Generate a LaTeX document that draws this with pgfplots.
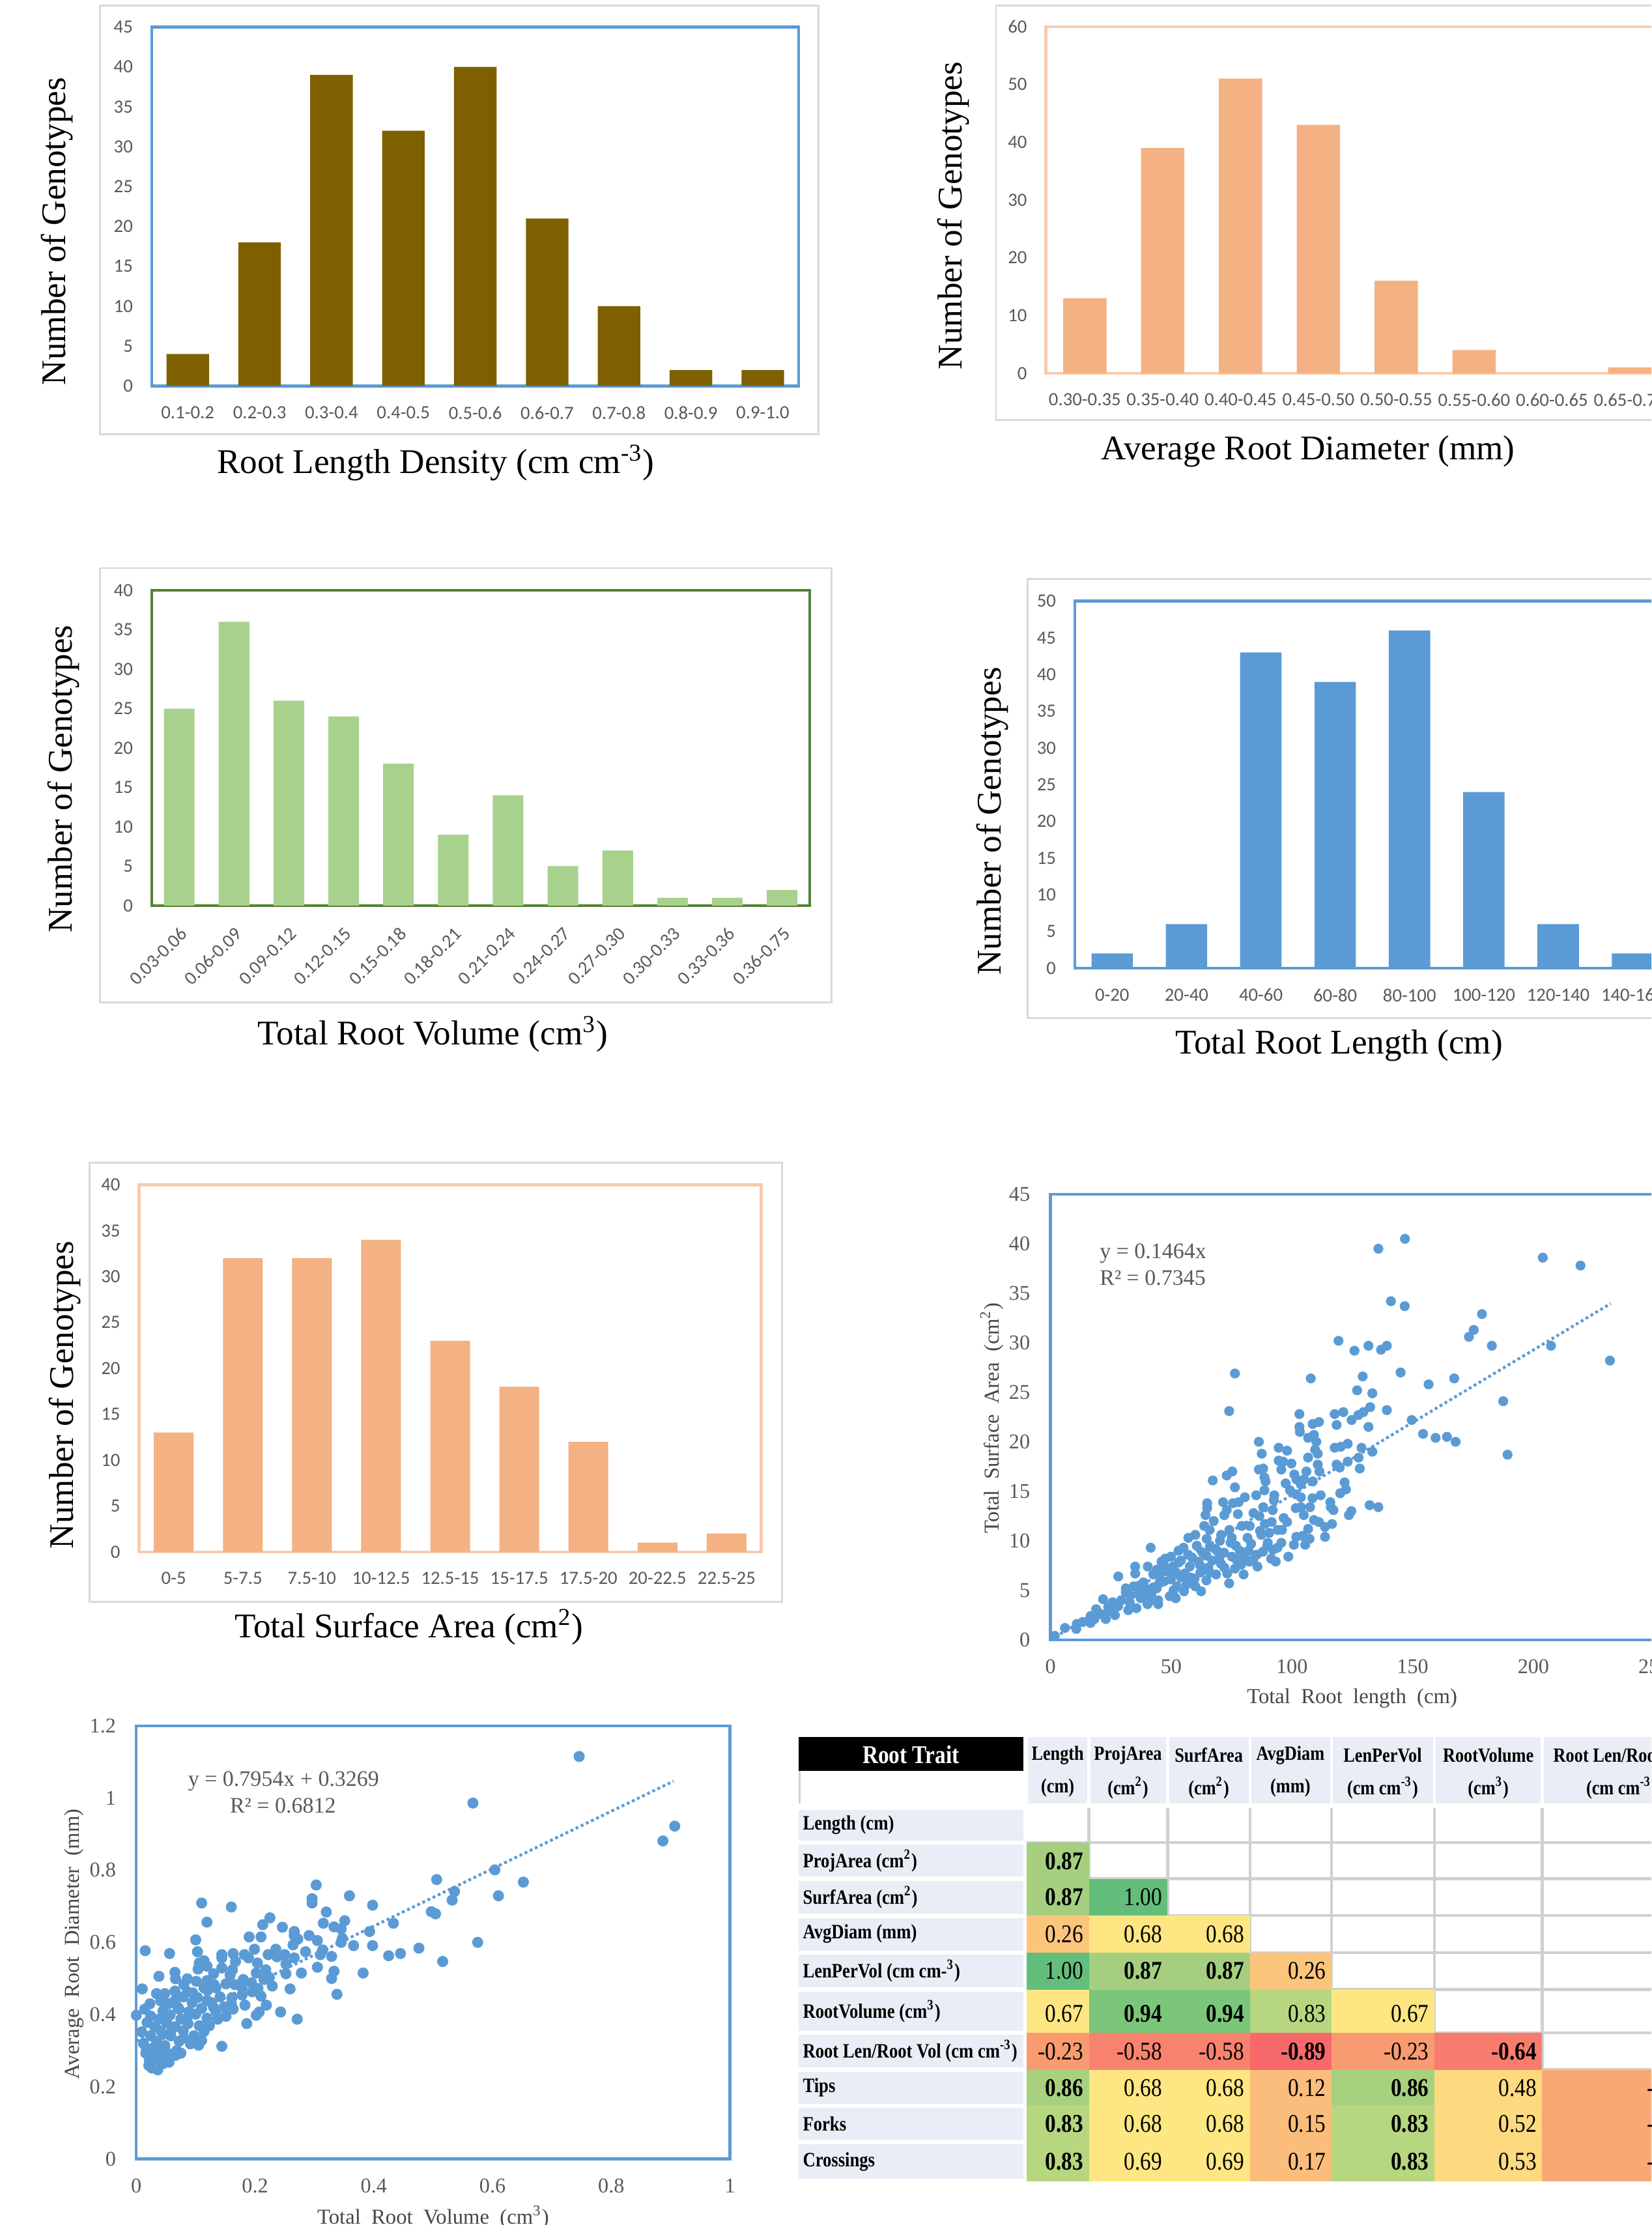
\documentclass[border=0pt]{standalone}
\usepackage{pgfplots}
\pgfplotsset{compat=1.18}
\usepackage{fontspec}
\setmainfont{Liberation Serif}
\newfontfamily\calib{Carlito}
\newfontfamily\tabfont{Liberation Serif}[FakeStretch=0.85]

\definecolor{olivebar}{HTML}{7F6000}
\definecolor{salmon}{HTML}{F4B183}
\definecolor{salmonline}{HTML}{F8CBAD}
\definecolor{greenbar}{HTML}{A9D18E}
\definecolor{greenline}{HTML}{548235}
\definecolor{bluebar}{HTML}{5B9BD5}
\definecolor{tickgray}{HTML}{595959}
\definecolor{boxgray}{HTML}{D9D9D9}
\definecolor{hdr}{HTML}{E9EDF5}
\definecolor{gridg}{HTML}{D0D0D0}
\definecolor{g100}{HTML}{63BE7B}
\definecolor{g94}{HTML}{7CC67C}
\definecolor{g87}{HTML}{A5CF7F}
\definecolor{g86}{HTML}{A8D17F}
\definecolor{g83}{HTML}{B6D780}
\definecolor{y68}{HTML}{FEE783}
\definecolor{y50}{HTML}{FDD980}
\definecolor{o26}{HTML}{FCC57C}
\definecolor{o15}{HTML}{FBBD7B}
\definecolor{r23}{HTML}{F99B71}
\definecolor{r58}{HTML}{F7836E}
\definecolor{r64}{HTML}{F77C6E}
\definecolor{r89}{HTML}{F8696B}
\definecolor{oRL}{HTML}{F9A873}

\newcommand{\ttl}{\fontsize{12.2}{14}\selectfont}
\newcommand{\slab}{\fontsize{7.5}{9}\selectfont}
\newcommand{\tnum}{\tabfont\fontsize{9}{10}\selectfont}
\newcommand{\tlab}{\tabfont\bfseries\fontsize{7.2}{8}\selectfont}
\newcommand{\thdr}{\tabfont\bfseries\fontsize{7.1}{8}\selectfont}

% table cell: x0 x1 y0 y1 xr ym color text
\newcommand{\tc}[8]{%
  \addplot[fill=#7, draw=none] coordinates {(#1,#3) (#2,#3) (#2,#4) (#1,#4)} -- cycle;
  \node[anchor=east, inner sep=0pt, font=\tnum] at (axis cs:#5,#6) {#8};
}
% label cell: y0 y1 ym text
\newcommand{\lc}[4]{%
  \addplot[fill=hdr, draw=none] coordinates {(563,#1) (721.3,#1) (721.3,#2) (563,#2)} -- cycle;
  \node[anchor=west, inner sep=0pt, font=\tlab] at (axis cs:565.5,#3) {#4};
}
% header cell: x0 x1 xc line1 line2
\newcommand{\hc}[5]{%
  \addplot[fill=hdr, draw=none] coordinates {(#1,1224) (#2,1224) (#2,1271) (#1,1271)} -- cycle;
  \node[inner sep=0pt, font=\thdr] at (axis cs:#3,1236.8) {#4};
  \node[inner sep=0pt, font=\thdr] at (axis cs:#3,1259.8) {#5};
}

\pgfplotsset{
  barax/.style={scale only axis, enlargelimits=false, ymin=0,
    axis line style={line width=1pt}, major tick length=0pt, tick style={draw=none},
    tick label style={font=\calib\fontsize{6.6}{7}\selectfont, text=tickgray},
    /pgf/number format/assume math mode=true,
    yticklabel style={inner sep=0pt, xshift=-6.5pt},
    xticklabel style={inner sep=0pt, yshift=-7pt},
    ybar, bar shift=0pt},
  scatax/.style={scale only axis, enlargelimits=false,
    axis line style={draw=bluebar, line width=1pt}, major tick length=0pt, tick style={draw=none},
    tick label style={font=\fontsize{7.4}{8}\selectfont, text=tickgray},
    /pgf/number format/assume math mode=true,
    yticklabel style={inner sep=0pt, xshift=-7pt},
    xticklabel style={inner sep=0pt, yshift=-6.8pt}},
}

\begin{document}
\begin{tikzpicture}
\useasboundingbox (0pt,0pt) rectangle (582pt,-784pt);
\clip (0pt,0pt) rectangle (582pt,-784pt);

% ---------- outer chart boxes ----------
\draw[boxgray, line width=0.6pt] (35.25pt,-1.95pt) rectangle (288.5pt,-153pt);
\draw[boxgray, line width=0.6pt] (351pt,-1.95pt) rectangle (600pt,-148pt);
\draw[boxgray, line width=0.6pt] (35.25pt,-200.2pt) rectangle (293pt,-353.2pt);
\draw[boxgray, line width=0.6pt] (362.15pt,-204pt) rectangle (600pt,-358.7pt);
\draw[boxgray, line width=0.6pt] (31.5pt,-409.65pt) rectangle (275.65pt,-564.35pt);

% ---------- Panel 1: Root length density ----------
\begin{axis}[barax, at={(53.5pt,-136pt)}, anchor=south west, width=228pt, height=126.5pt,
  ymax=45, ytick={0,5,...,45}, xmin=-0.5, xmax=8.5, xtick={0,...,8},
  xticklabels={0.1-0.2,0.2-0.3,0.3-0.4,0.4-0.5,0.5-0.6,0.6-0.7,0.7-0.8,0.8-0.9,0.9-1.0},
  axis line style={draw=bluebar}, bar width=15pt]
\addplot[fill=olivebar, draw=none] coordinates {(0,4) (1,18) (2,39) (3,32) (4,40) (5,21) (6,10) (7,2) (8,2)};
\end{axis}
\node[rotate=90, font=\ttl] at (20pt,-81.5pt) {Number of Genotypes};
\node[font=\ttl] at (153.5pt,-163pt) {Root Length Density (cm cm\textsuperscript{-3})};

% ---------- Panel 2: Average root diameter ----------
\begin{axis}[barax, at={(368.6pt,-131.5pt)}, anchor=south west, width=219.5pt, height=122.1pt,
  ymax=60, ytick={0,10,...,60}, xmin=-0.5, xmax=7.5, xtick={0,...,7},
  xticklabels={0.30-0.35,0.35-0.40,0.40-0.45,0.45-0.50,0.50-0.55,0.55-0.60,0.60-0.65,0.65-0.70},
  axis line style={draw=salmonline}, bar width=15.25pt]
\addplot[fill=salmon, draw=none] coordinates {(0,13) (1,39) (2,51) (3,43) (4,16) (5,4) (6,0) (7,1)};
\end{axis}
\node[rotate=90, font=\ttl] at (336pt,-76pt) {Number of Genotypes};
\node[font=\ttl] at (461pt,-159pt) {Average Root Diameter (mm)};

% ---------- Panel 3: Total root volume ----------
\begin{axis}[barax, at={(53.5pt,-319.1pt)}, anchor=south west, width=231.8pt, height=111.1pt,
  ymax=40, ytick={0,5,...,40}, xmin=-0.5, xmax=11.5, xtick={0,...,11},
  xticklabels={0.03-0.06,0.06-0.09,0.09-0.12,0.12-0.15,0.15-0.18,0.18-0.21,0.21-0.24,0.24-0.27,0.27-0.30,0.30-0.33,0.33-0.36,0.36-0.75},
  xticklabel style={rotate=45, anchor=north east},
  axis line style={draw=greenline}, bar width=10.8pt]
\addplot[fill=greenbar, draw=none] coordinates {(0,25) (1,36) (2,26) (3,24) (4,18) (5,9) (6,14) (7,5) (8,7) (9,1) (10,1) (11,2)};
\end{axis}
\node[rotate=90, font=\ttl] at (22.5pt,-274.5pt) {Number of Genotypes};
\node[font=\ttl] at (152.5pt,-364.4pt) {Total Root Volume (cm\textsuperscript{3})};

% ---------- Panel 4: Total root length ----------
\begin{axis}[barax, at={(378.85pt,-341.15pt)}, anchor=south west, width=209.6pt, height=129.35pt,
  ymax=50, ytick={0,5,...,50}, xmin=-0.5, xmax=7.5, xtick={0,...,7},
  xticklabels={0-20,20-40,40-60,60-80,80-100,100-120,120-140,140-160},
  axis line style={draw=bluebar}, bar width=14.6pt]
\addplot[fill=bluebar, draw=none] coordinates {(0,2) (1,6) (2,43) (3,39) (4,46) (5,24) (6,6) (7,2)};
\end{axis}
\node[rotate=90, font=\ttl] at (349.8pt,-289.35pt) {Number of Genotypes};
\node[font=\ttl] at (471.9pt,-368.4pt) {Total Root Length (cm)};

% ---------- Panel 5: Total surface area ----------
\begin{axis}[barax, at={(49.05pt,-546.8pt)}, anchor=south west, width=219.2pt, height=129.35pt,
  ymax=40, ytick={0,5,...,40}, xmin=-0.5, xmax=8.5, xtick={0,...,8},
  xticklabels={0-5,5-7.5,7.5-10,10-12.5,12.5-15,15-17.5,17.5-20,20-22.5,22.5-25},
  axis line style={draw=salmonline}, bar width=14pt]
\addplot[fill=salmon, draw=none] coordinates {(0,13) (1,32) (2,32) (3,34) (4,23) (5,18) (6,12) (7,1) (8,2)};
\end{axis}
\node[rotate=90, font=\ttl] at (22.9pt,-491.5pt) {Number of Genotypes};
\node[font=\ttl] at (144.15pt,-573.25pt) {Total Surface Area (cm\textsuperscript{2})};

% ---------- Panel 6: scatter surface area vs length ----------
\begin{axis}[scatax, at={(370.2pt,-577.8pt)}, anchor=south west, width=212.75pt, height=157pt,
  xmin=0, xmax=250, ymin=0, ymax=45, xtick={0,50,100,150,200,250}, ytick={0,5,...,45}]
\addplot[only marks, mark=*, mark size=1.55pt, color=bluebar] coordinates {
(146.8,40.5) (135.8,39.5) (203.9,38.6) (219.5,37.8) (141,34.2) (146.7,33.7) (178.7,32.9) (175.3,31.3) (173.3,30.6) (119.3,30.2)
(182.8,29.7) (207.3,29.7) (131.7,29.7) (139.3,29.7) (136.9,29.3) (125.9,29.2) (231.7,28.2) (76.4,26.9) (145,27.0) (107.8,26.4)
(129.3,26.6) (167.2,26.4) (156.6,25.8) (127,25.2) (133.3,24.9) (187.5,24.1) (132.4,23.5) (139.3,23.2) (74,23.1) (103.1,22.8)
(117.7,22.8) (121.3,23.0) (124.7,22.2) (127.5,22.7) (129.6,23.0) (149.6,22.2) (108.6,21.8) (111.2,22.0) (118.5,21.7) (103.1,21.5)
(131.7,21.5) (103.3,21.0) (154.3,20.8) (159.5,20.4) (164.2,20.5) (167.8,20.0) (189.3,18.7) (106.7,20.4) (109.1,20.7) (110.1,20.0)
(86.3,20.0) (94.5,19.4) (98.0,19.1) (87.5,18.8) (109.6,19.2) (110.7,18.8) (117.7,19.4) (120.2,19.5) (123.1,19.8) (128.8,19.4)
(133.3,19.0) (106.7,18.4) (94.5,18.1) (96.4,18.0) (99.8,17.8) (127.6,18.4) (123.1,18.0) (118.5,17.7) (119.8,17.4) (128.1,17.3)
(110.7,17.7) (111.4,17.0) (86.3,17.2) (88.1,17.3) (75.3,17.0) (73.0,16.6) (67.2,16.1) (95.6,17.2) (101.0,16.7) (106.0,17.0)
(105.0,16.2) (108.6,16.0) (88.6,16.4) (89.1,16.0) (97.4,15.8) (101.9,16.2) (121.8,15.9) (122.4,15.2) (76.4,15.4) (88.6,15.1)
(99.2,15.1) (103.7,15.7) (120.0,14.8) (85.2,14.6) (92.7,14.6) (80.5,14.4) (101.6,14.7) (103.7,14.4) (111.9,14.6) (108.5,14.3)
(92.5,14.1) (71.5,13.9) (75.6,13.8) (77.9,13.9) (64.9,13.8) (115.9,13.9) (116.1,13.4) (132.2,13.6) (135.8,13.4) (88.1,13.4)
(92.0,13.1) (101.6,13.3) (103.7,13.4) (107.5,13.4) (64.9,13.3) (73.0,13.1) (117.2,13.1) (124.6,13.0) (123.6,12.6) (84.1,12.8)
(64.2,12.6) (72.0,12.6) (77.6,12.7) (104.9,12.6) (86.5,12.5) (96.6,12.3) (98.0,11.9) (67.6,12.0) (109.1,12.1) (111.2,11.9)
(91.6,11.9) (88.8,11.7) (113.7,11.4) (116.6,11.7) (63.7,11.5) (65.9,11.1) (79.2,11.5) (82.5,11.5) (74.1,11.1) (86.8,11.0)
(94.1,11.1) (95.9,11.1) (90.6,10.8) (106.7,11.2) (113.7,10.4) (57.1,10.3) (60.0,10.6) (70.7,10.6) (64.7,10.2) (75.1,10.3)
(81.6,10.3) (87.3,10.6) (101.8,10.4) (107.3,10.2) (104.4,10.5) (95.6,9.8) (100.8,9.6) (105.5,9.6) (41.5,9.3) (60.6,9.5)
(70.2,10.0) (74.6,9.8) (76.8,9.5) (83.1,9.7) (89.8,9.5) (55.1,9.3) (53.0,9.0) (68.1,9.2) (78.4,9.0) (92.2,9.1)
(98.5,8.4) (47.5,8.2) (49.9,8.4) (58.7,8.3) (64.6,8.5) (71.9,8.8) (75.1,8.4) (80.3,8.4) (85.4,8.6) (91.4,8.2)
(93.3,7.9) (46.0,7.9) (54.0,8.0) (61.3,7.9) (67.0,8.0) (70.6,7.7) (82.4,7.9) (35.1,7.4) (40.3,7.4) (44.2,7.1)
(50.7,7.4) (57.7,7.4) (65.4,7.3) (76.4,7.2) (85.7,7.4) (35.1,6.7) (42.6,6.6) (48.3,6.9) (55.6,6.7) (62.1,6.8)
(68.6,6.6) (73.2,6.7) (80.0,6.6) (28.1,6.4) (49.9,6.1) (59.7,6.2) (64.6,6.0) (38.5,5.8) (45.0,5.7) (56.4,5.6)
(74.0,5.7) (31.2,5.2) (34.5,5.4) (39.3,5.2) (42.6,5.3) (52.4,5.4) (60.0,5.4) (31.2,4.8) (36.4,4.6) (41.8,4.7)
(49.4,4.4) (55.3,4.9) (62.4,4.9) (21.8,4.1) (29.3,4.0) (37.4,4.2) (41.0,3.9) (44.6,4.0) (51.9,4.2) (25.7,3.8)
(32.8,3.8) (40.2,3.6) (44.6,3.6) (18.9,3.1) (23.9,3.3) (32.2,3.0) (35.6,3.2) (26.0,2.8) (20.7,2.6) (16.6,2.4)
(22.9,2.1) (26.7,2.5) (18.2,2.1) (13.3,1.8) (16.6,1.7) (10.9,1.6) (10.7,1.1) (6.0,1.2) (1.8,0.4)
(45,6.5) (47,7.5) (52,6.8) (53,7.8) (57,8.6) (58,6.3) (62,7.5) (63,8.8) (66,9.4) (69,9.0) (72,7.3) (77,8.1) (79,7.6)
(82,9.0) (84,8.1) (88,8.9) (90,9.8) (94,9.3) (44,5.2) (47,5.9) (51,5.0) (54,6.3) (58,5.9) (66,6.8) (70,8.4) (37,5.5)
(39,4.3) (33,4.5) (28,3.4) (24,2.9)
};
\addplot[color=bluebar, densely dotted, line width=1pt] coordinates {(0,0) (232,33.96)};
\end{axis}
\node[anchor=west, inner sep=0pt, font=\fontsize{7.8}{9}\selectfont, text=tickgray] at (387.4pt,-441.6pt) {y = 0.1464x};
\node[anchor=west, inner sep=0pt, font=\fontsize{7.8}{9}\selectfont, text=tickgray] at (387.4pt,-450.3pt) {R² = 0.7345};
\node[font=\slab, text=tickgray!80!black] at (476.5pt,-598.4pt) {Total\ \ Root\ \ length\ \ (cm)};
\node[rotate=90, font=\slab, text=tickgray!80!black] at (349.5pt,-499.7pt) {Total\ \ Surface\ \ Area\ \ (cm\textsuperscript{2})};

% ---------- Panel 7: scatter diameter vs volume ----------
\begin{axis}[scatax, at={(48.05pt,-760.7pt)}, anchor=south west, width=209.2pt, height=152.6pt,
  xmin=0, xmax=1, ymin=0, ymax=1.2, xtick={0,0.2,0.4,0.6,0.8,1}, ytick={0,0.2,0.4,0.6,0.8,1,1.2}]
\addplot[only marks, mark=*, mark size=1.75pt, color=bluebar] coordinates {
(0.746,1.115) (0.567,0.986) (0.907,0.922) (0.887,0.881) (0.604,0.801) (0.506,0.774) (0.652,0.767) (0.303,0.759) (0.536,0.741) (0.359,0.729)
(0.610,0.729) (0.296,0.721) (0.296,0.709) (0.532,0.717) (0.110,0.709) (0.160,0.698) (0.398,0.703) (0.497,0.685) (0.504,0.679) (0.320,0.684)
(0.225,0.668) (0.119,0.656) (0.213,0.649) (0.315,0.653) (0.351,0.660) (0.433,0.653) (0.246,0.642) (0.333,0.643) (0.345,0.637) (0.266,0.630)
(0.393,0.630) (0.190,0.615) (0.210,0.615) (0.291,0.619) (0.266,0.619) (0.272,0.609) (0.347,0.611) (0.305,0.605) (0.100,0.607) (0.575,0.600)
(0.345,0.600) (0.366,0.591) (0.398,0.591) (0.264,0.593) (0.235,0.581) (0.199,0.581) (0.314,0.579) (0.476,0.584) (0.015,0.577) (0.056,0.569)
(0.103,0.574) (0.285,0.574) (0.445,0.569) (0.425,0.563) (0.144,0.566) (0.163,0.569) (0.182,0.566) (0.222,0.566) (0.250,0.566) (0.310,0.566)
(0.329,0.561) (0.237,0.560) (0.266,0.557) (0.144,0.557) (0.114,0.549) (0.167,0.547) (0.189,0.557) (0.516,0.547) (0.106,0.543) (0.204,0.543)
(0.252,0.540) (0.119,0.534) (0.144,0.529) (0.305,0.531) (0.162,0.524) (0.218,0.524) (0.104,0.526) (0.333,0.520) (0.382,0.515) (0.278,0.515)
(0.252,0.513) (0.065,0.517) (0.130,0.513) (0.202,0.515) (0.038,0.506) (0.158,0.509) (0.224,0.503) (0.066,0.499) (0.086,0.499) (0.215,0.497)
(0.329,0.500) (0.101,0.492) (0.119,0.494) (0.180,0.497) (0.080,0.483) (0.131,0.483) (0.151,0.485) (0.166,0.483) (0.194,0.488) (0.229,0.479)
(0.010,0.471) (0.114,0.474) (0.134,0.474) (0.178,0.474) (0.205,0.472) (0.259,0.471) (0.065,0.465) (0.086,0.463) (0.120,0.467) (0.195,0.463)
(0.034,0.458) (0.048,0.458) (0.338,0.456) (0.178,0.454) (0.210,0.451) (0.079,0.449) (0.103,0.447) (0.141,0.449) (0.161,0.447) (0.041,0.438)
(0.065,0.439) (0.119,0.439) (0.023,0.430) (0.054,0.430) (0.094,0.433) (0.127,0.433) (0.183,0.426) (0.219,0.426) (0.148,0.421) (0.014,0.415)
(0.072,0.415) (0.110,0.417) (0.163,0.415) (0.045,0.410) (0.089,0.408) (0.134,0.408) (0.243,0.407) (0.207,0.407) (0.000,0.398) (0.202,0.398)
(0.024,0.396) (0.057,0.399) (0.100,0.401) (0.151,0.395) (0.271,0.387) (0.038,0.387) (0.075,0.387) (0.119,0.390) (0.137,0.387) (0.018,0.378)
(0.051,0.378) (0.087,0.375) (0.186,0.375) (0.031,0.366) (0.065,0.366) (0.106,0.369) (0.123,0.369) (0.009,0.352) (0.041,0.355) (0.079,0.355)
(0.114,0.353) (0.024,0.341) (0.058,0.341) (0.097,0.341) (0.012,0.320) (0.034,0.326) (0.072,0.326) (0.110,0.328) (0.091,0.319) (0.144,0.312)
(0.048,0.314) (0.105,0.315) (0.017,0.305) (0.038,0.300) (0.068,0.300) (0.016,0.293) (0.055,0.291) (0.075,0.293) (0.027,0.287) (0.045,0.284)
(0.066,0.287) (0.022,0.273) (0.055,0.268) (0.036,0.277) (0.021,0.259) (0.045,0.264) (0.026,0.252) (0.036,0.247)
(0.060,0.360) (0.070,0.420) (0.085,0.390) (0.095,0.460) (0.045,0.345) (0.030,0.310) (0.080,0.335) (0.130,0.420) (0.160,0.430) (0.050,0.395)
};
\addplot[color=bluebar, densely dotted, line width=1pt] coordinates {(0,0.3269) (0.905,1.0467)};
\end{axis}
\node[font=\fontsize{7.8}{9}\selectfont, text=tickgray] at (99.95pt,-627.65pt) {y = 0.7954x + 0.3269};
\node[font=\fontsize{7.8}{9}\selectfont, text=tickgray] at (99.7pt,-636.15pt) {R² = 0.6812};
\node[font=\slab, text=tickgray!80!black] at (152.65pt,-781.3pt) {Total\ \ Root\ \ Volume\ \ (cm\textsuperscript{3})};
\node[rotate=90, font=\slab, text=tickgray!80!black] at (26pt,-685pt) {Average\ \ Root\ \ Diameter\ \ (mm)};

% ---------- Panel 8: correlation table ----------
\begin{axis}[at={(281.5pt,-784pt)}, anchor=south west, scale only axis, width=300.5pt, height=174pt,
  xmin=563, xmax=1164, ymin=1220, ymax=1568, y dir=reverse, hide axis, enlargelimits=false]
% grid of empty cells
\draw[gridg, line width=1pt] (axis cs:767.5,1274) -- (axis cs:767.5,1537);
\draw[gridg, line width=1pt] (axis cs:823,1274) -- (axis cs:823,1537);
\draw[gridg, line width=1pt] (axis cs:881,1274) -- (axis cs:881,1537);
\draw[gridg, line width=1pt] (axis cs:938.5,1274) -- (axis cs:938.5,1537);
\draw[gridg, line width=1pt] (axis cs:1011,1274) -- (axis cs:1011,1537);
\draw[gridg, line width=1pt] (axis cs:1087,1274) -- (axis cs:1087,1537);
\draw[gridg, line width=1pt] (axis cs:723.5,1298.5) -- (axis cs:1200,1298.5);
\draw[gridg, line width=1pt] (axis cs:723.5,1324) -- (axis cs:1200,1324);
\draw[gridg, line width=1pt] (axis cs:723.5,1350) -- (axis cs:1200,1350);
\draw[gridg, line width=1pt] (axis cs:723.5,1376) -- (axis cs:1200,1376);
\draw[gridg, line width=1pt] (axis cs:723.5,1402) -- (axis cs:1200,1402);
\draw[gridg, line width=1pt] (axis cs:723.5,1432.5) -- (axis cs:1200,1432.5);
\draw[gridg, line width=1pt] (axis cs:723.5,1458.5) -- (axis cs:1200,1458.5);
\draw[gridg, line width=0.6pt] (axis cs:563.5,1248) -- (axis cs:563.5,1271);
% header
\addplot[fill=black, draw=none] coordinates {(563,1224) (721.3,1224) (721.3,1248) (563,1248)} -- cycle;
\node[inner sep=0pt, font=\tabfont\bfseries\fontsize{9}{10}\selectfont, text=white] at (axis cs:642,1236.5) {Root Trait};
\hc{724.5}{766.5}{745.5}{Length}{(cm)}
\hc{768.5}{822}{795}{ProjArea}{(cm\textsuperscript{2})}
\hc{824}{880}{852}{SurfArea}{(cm\textsuperscript{2})}
\hc{882}{937.5}{909.5}{AvgDiam}{(mm)}
\hc{939.5}{1010}{974.5}{LenPerVol}{(cm cm\textsuperscript{-3})}
\hc{1012}{1086}{1049}{RootVolume}{(cm\textsuperscript{3})}
\hc{1088}{1200}{1143}{Root Len/Root Vol}{(cm cm\textsuperscript{-3})}
% row labels
\lc{1275.5}{1297}{1286.25}{Length (cm)}
\lc{1300}{1322.5}{1311.25}{ProjArea (cm\textsuperscript{2})}
\lc{1325.5}{1348.5}{1337}{SurfArea (cm\textsuperscript{2})}
\lc{1351.5}{1374.5}{1363}{AvgDiam (mm)}
\lc{1377.5}{1400.5}{1389}{LenPerVol (cm cm-\textsuperscript{3})}
\lc{1403.5}{1431}{1417.25}{RootVolume (cm\textsuperscript{3})}
\lc{1434}{1457}{1445.5}{Root Len/Root Vol (cm cm\textsuperscript{-3})}
\lc{1460}{1482.5}{1471.25}{Tips}
\lc{1485.5}{1508}{1496.75}{Forks}
\lc{1511}{1535.5}{1523.25}{Crossings}
% row ProjArea
\tc{723.5}{767.5}{1298.5}{1324}{764}{1311.5}{g87}{\bfseries 0.87}
% row SurfArea
\tc{723.5}{767.5}{1324}{1350}{764}{1337}{g87}{\bfseries 0.87}
\tc{767.5}{823}{1324}{1350}{819.5}{1337}{g100}{1.00}
% row AvgDiam
\tc{723.5}{767.5}{1350}{1376}{764}{1363}{o26}{0.26}
\tc{767.5}{823}{1350}{1376}{819.5}{1363}{y68}{0.68}
\tc{823}{881}{1350}{1376}{877.5}{1363}{y68}{0.68}
% row LenPerVol
\tc{723.5}{767.5}{1376}{1402}{764}{1389}{g100}{1.00}
\tc{767.5}{823}{1376}{1402}{819.5}{1389}{g87}{\bfseries 0.87}
\tc{823}{881}{1376}{1402}{877.5}{1389}{g87}{\bfseries 0.87}
\tc{881}{938.5}{1376}{1402}{935}{1389}{o26}{0.26}
% row RootVolume
\tc{723.5}{767.5}{1402}{1432.5}{764}{1419}{y68}{0.67}
\tc{767.5}{823}{1402}{1432.5}{819.5}{1419}{g94}{\bfseries 0.94}
\tc{823}{881}{1402}{1432.5}{877.5}{1419}{g94}{\bfseries 0.94}
\tc{881}{938.5}{1402}{1432.5}{935}{1419}{g83}{0.83}
\tc{938.5}{1011}{1402}{1432.5}{1007.5}{1419}{y68}{0.67}
% row Root Len/Root Vol
\tc{723.5}{767.5}{1432.5}{1458.5}{764}{1445.5}{r23}{-0.23}
\tc{767.5}{823}{1432.5}{1458.5}{819.5}{1445.5}{r58}{-0.58}
\tc{823}{881}{1432.5}{1458.5}{877.5}{1445.5}{r58}{-0.58}
\tc{881}{938.5}{1432.5}{1458.5}{935}{1445.5}{r89}{\bfseries -0.89}
\tc{938.5}{1011}{1432.5}{1458.5}{1007.5}{1445.5}{r23}{-0.23}
\tc{1011}{1087}{1432.5}{1458.5}{1083.5}{1445.5}{r64}{\bfseries -0.64}
% row Tips
\tc{723.5}{767.5}{1458.5}{1484}{764}{1471.25}{g86}{\bfseries 0.86}
\tc{767.5}{823}{1458.5}{1484}{819.5}{1471.25}{y68}{0.68}
\tc{823}{881}{1458.5}{1484}{877.5}{1471.25}{y68}{0.68}
\tc{881}{938.5}{1458.5}{1484}{935}{1471.25}{o15}{0.12}
\tc{938.5}{1011}{1458.5}{1484}{1007.5}{1471.25}{g86}{\bfseries 0.86}
\tc{1011}{1087}{1458.5}{1484}{1083.5}{1471.25}{y50}{0.48}
\tc{1087}{1200}{1458.5}{1484}{1193}{1471.25}{oRL}{-0.19}
% row Forks
\tc{723.5}{767.5}{1484}{1509.5}{764}{1496.75}{g83}{\bfseries 0.83}
\tc{767.5}{823}{1484}{1509.5}{819.5}{1496.75}{y68}{0.68}
\tc{823}{881}{1484}{1509.5}{877.5}{1496.75}{y68}{0.68}
\tc{881}{938.5}{1484}{1509.5}{935}{1496.75}{o15}{0.15}
\tc{938.5}{1011}{1484}{1509.5}{1007.5}{1496.75}{g83}{\bfseries 0.83}
\tc{1011}{1087}{1484}{1509.5}{1083.5}{1496.75}{y50}{0.52}
\tc{1087}{1200}{1484}{1509.5}{1193}{1496.75}{oRL}{-0.19}
% row Crossings
\tc{723.5}{767.5}{1509.5}{1537}{764}{1523.25}{g83}{\bfseries 0.83}
\tc{767.5}{823}{1509.5}{1537}{819.5}{1523.25}{y68}{0.69}
\tc{823}{881}{1509.5}{1537}{877.5}{1523.25}{y68}{0.69}
\tc{881}{938.5}{1509.5}{1537}{935}{1523.25}{o15}{0.17}
\tc{938.5}{1011}{1509.5}{1537}{1007.5}{1523.25}{g83}{\bfseries 0.83}
\tc{1011}{1087}{1509.5}{1537}{1083.5}{1523.25}{y50}{0.53}
\tc{1087}{1200}{1509.5}{1537}{1193}{1523.25}{oRL}{-0.20}
\end{axis}
\end{tikzpicture}
\end{document}
